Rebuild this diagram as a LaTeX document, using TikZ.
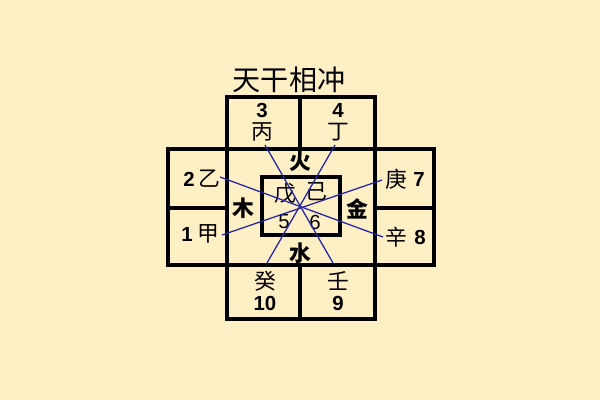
\documentclass[tikz,border=0pt]{standalone}
\usepackage{fontspec}
\setmainfont{Liberation Sans}
\newfontfamily\cjk{Noto Sans CJK SC}
\usetikzlibrary{calc}
\usepackage{xcolor}
\definecolor{paper}{HTML}{FFEFC4}
\definecolor{chong}{HTML}{2424A8}

\begin{document}
\begin{tikzpicture}[x=0.025cm, y=-0.025cm, thick,
        every node/.style={inner sep=1pt},
        gan/.style={font=\cjk\fontsize{15.5}{15.5}\selectfont},
        wuxing/.style={font=\cjk\bfseries\fontsize{15.5}{15.5}\selectfont},
        num/.style={font=\bfseries\fontsize{14.5}{14.5}\selectfont},
        box/.style={line width=2.2pt},
        chongline/.style={chong, line width=0.9pt}]
        % Background
        \fill[paper] (0,0) rectangle (600,400);
        \useasboundingbox (0,0) rectangle (600,400);

        % Title
        \node[font=\cjk\fontsize{20}{20}\selectfont] (title) at (289,80) {天干相冲};

        % Boxes
        \draw[box] (227,97) rectangle (300,149);    % top left
        \draw[box] (300,97) rectangle (375,149);    % top right
        \draw[box] (168,149) rectangle (434,265);   % middle row
        \draw[box] (227,149) -- (227,265);
        \draw[box] (375,149) -- (375,265);
        \draw[box] (168,208) -- (227,208);
        \draw[box] (375,208) -- (434,208);
        \draw[box] (262,177) rectangle (340,235);   % centre
        \draw[box] (227,265) rectangle (300,319);   % bottom left
        \draw[box] (300,265) rectangle (375,319);   % bottom right

        % Stems and numbers
        \node[num] (n3) at (262,110) {3};
        \node[gan] (bing) at (262,132) {丙};
        \node[num] (n4) at (338,110) {4};
        \node[gan] (ding) at (338,132) {丁};
        \node[num] (n2) at (189,179) {2};
        \node[gan] (yi) at (209,179) {乙};
        \node[num] (n1) at (187,234) {1};
        \node[gan] (jia) at (208,234) {甲};
        \node[gan] (geng) at (396,179) {庚};
        \node[num] (n7) at (419,179) {7};
        \node[gan] (xin) at (396,237) {辛};
        \node[num] (n8) at (420,237) {8};
        \node[gan] (gui) at (265,281) {癸};
        \node[num] (n10) at (265,303) {10};
        \node[gan] (ren) at (338,281) {壬};
        \node[num] (n9) at (338,303) {9};
        \node[gan] (wu) at (285,193) {戊};
        \node[gan] (ji) at (316,192) {己};
        \node[num, font=\fontsize{14.5}{14.5}\selectfont] (n5) at (284,222) {5};
        \node[num, font=\fontsize{14.5}{14.5}\selectfont] (n6) at (315,222) {6};

        % Elements
        \node[wuxing] (huo) at (300,161) {火};
        \node[wuxing] (mu) at (243,208) {木};
        \node[wuxing] (jin) at (357,209) {金};
        \node[wuxing] (shui) at (300,253) {水};

        % Clash line ends
        \coordinate (bingE) at (265,145);
        \coordinate (renE) at (333,263);
        \coordinate (dingE) at (335,145);
        \coordinate (guiE) at (267,263);
        \coordinate (yiE) at (220,177);
        \coordinate (xinE) at (383,237);
        \coordinate (gengE) at (382,180);
        \coordinate (jiaE) at (222,235);

        % Clash lines
        \draw[chongline] (bingE) -- (renE);
        \draw[chongline] (dingE) -- (guiE);
        \draw[chongline] (yiE) -- (xinE);
        \draw[chongline] (gengE) -- (jiaE);
\end{tikzpicture}
\end{document}
